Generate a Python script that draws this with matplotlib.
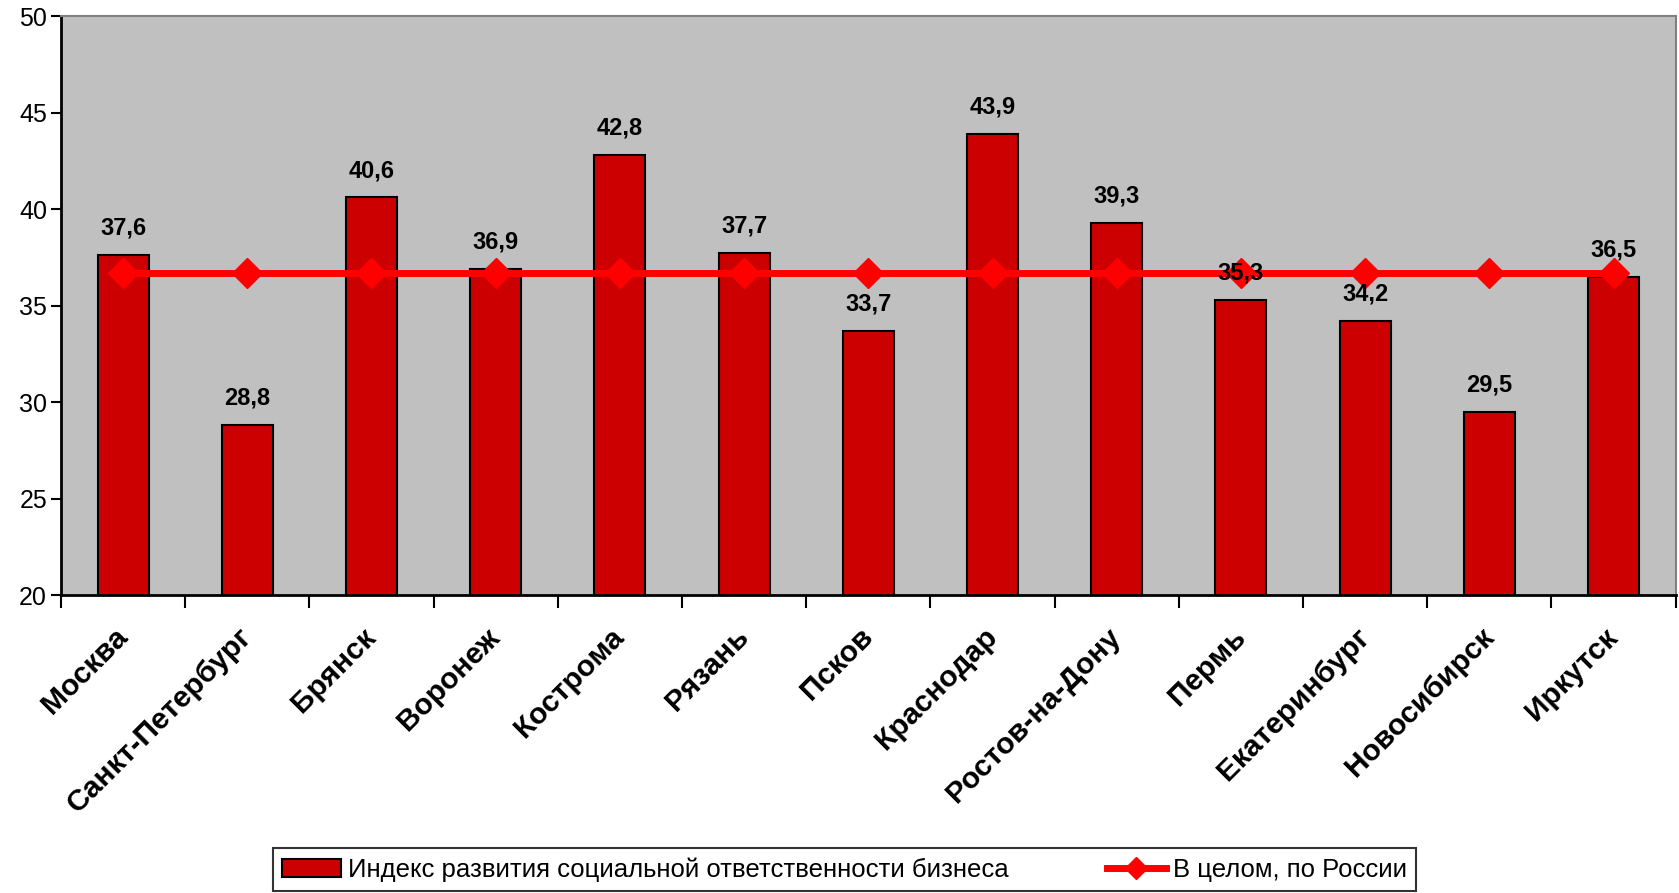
import matplotlib
matplotlib.use("Agg")
import matplotlib.pyplot as plt
import numpy as np
from matplotlib.lines import Line2D
from matplotlib.patches import Patch

categories = ["Москва", "Санкт-Петербург", "Брянск", "Воронеж", "Кострома", "Рязань",
              "Псков", "Краснодар", "Ростов-на-Дону", "Пермь", "Екатеринбург",
              "Новосибирск", "Иркутск"]
index_values = [37.6, 28.8, 40.6, 36.9, 42.8, 37.7, 33.7, 43.9, 39.3, 35.3, 34.2, 29.5, 36.5]
russia_avg = [36.7] * 13
value_labels = ["37,6", "28,8", "40,6", "36,9", "42,8", "37,7", "33,7", "43,9", "39,3",
                "35,3", "34,2", "29,5", "36,5"]
yticks = [20, 25, 30, 35, 40, 45, 50]
series_names = ["Индекс развития социальной ответственности бизнеса", "В целом, по России"]

regular = ["Liberation Sans", "DejaVu Sans"]

fig = plt.figure(figsize=(16.79, 8.93), dpi=100)
ax = fig.add_axes([0.0363, 0.3337, 0.9617, 0.6483])
ax.set_facecolor("#C0C0C0")

x = np.arange(len(categories))
ax.bar(x, index_values, width=0.41, bottom=0, color="#CC0000", edgecolor="black",
       linewidth=1.5, zorder=2)
ax.plot(x, russia_avg, color="#FF0000", linewidth=5, marker="D", markersize=15,
        markerfacecolor="#FF0000", markeredgecolor="#FF0000", zorder=3)

for xi, v, lab in zip(x, index_values, value_labels):
    ax.text(xi, v + 0.8, lab, ha="center", va="bottom", fontsize=17,
            fontweight="bold", family=regular, zorder=4)

ax.set_xlim(-0.5, len(categories) - 0.5)
ax.set_ylim(20, 50)
ax.set_yticks(yticks)
ax.set_yticklabels([str(t) for t in yticks], fontsize=18, family=regular)
ax.tick_params(axis="y", length=7, width=1.5, direction="out", pad=3)

ax.set_xticks(x - 0.08)
ax.set_xticklabels(categories, rotation=45, ha="right", rotation_mode="anchor",
                   fontsize=21.5, fontweight="bold", family=regular)
ax.tick_params(axis="x", which="major", length=0, pad=20)
ax.set_xticks(np.arange(len(categories) + 1) - 0.5, minor=True)
ax.tick_params(axis="x", which="minor", length=9, width=1.5, direction="out")

for s in ["left", "bottom"]:
    ax.spines[s].set_color("black")
    ax.spines[s].set_linewidth(2)
for s in ["top", "right"]:
    ax.spines[s].set_color("#808080")
    ax.spines[s].set_linewidth(1.5)

handles = [Patch(facecolor="#CC0000", edgecolor="black", linewidth=1.5),
           Line2D([0], [0], color="#FF0000", linewidth=5, marker="D", markersize=11)]
leg = fig.legend(handles, series_names, loc="lower center",
                 bbox_to_anchor=(0.503, -0.012), ncol=2, frameon=True, fancybox=False,
                 prop={"family": regular, "size": 18.5}, columnspacing=3.8,
                 handlelength=2.3, handletextpad=0.3, borderpad=0.35, edgecolor="black")
leg.get_frame().set_linewidth(1.5)

fig.savefig("out.png", dpi=100, facecolor="white")
